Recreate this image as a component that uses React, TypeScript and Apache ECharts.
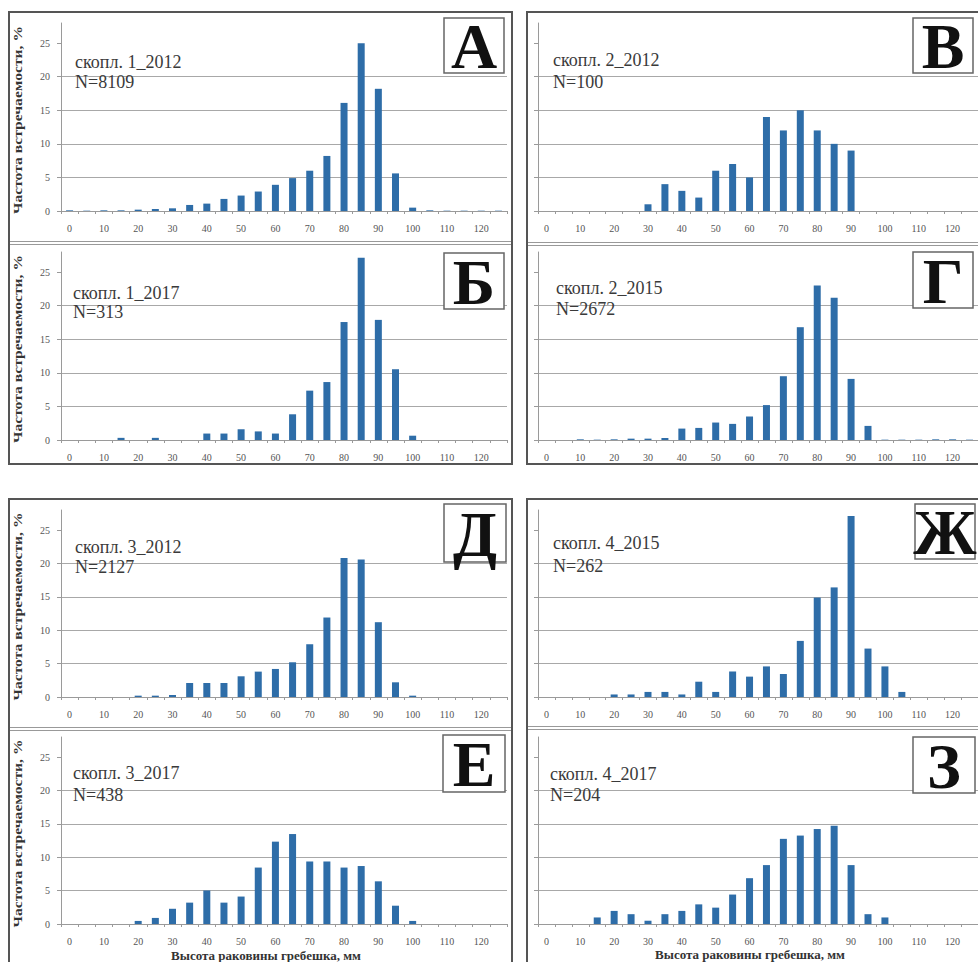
import React, { useEffect, useRef } from 'react';
import * as echarts from 'echarts';

// Size classes (shell height, mm)
const sizeClasses = ['0','5','10','15','20','25','30','35','40','45','50','55','60','65','70','75','80','85','90','95','100','105','110','115','120','125'];
const yTickValues = [0, 5, 10, 15, 20, 25];

// Frequency of occurrence, %
const agg1y2012 = [0.1,0.05,0.1,0.1,0.2,0.3,0.4,0.9,1.1,1.8,2.3,2.9,3.9,4.9,6.0,8.2,16.1,25.0,18.2,5.6,0.5,0.1,0.05,0.05,0.05,0.05];
const agg1y2017 = [0,0,0,0.32,0,0.32,0,0,0.96,0.96,1.6,1.28,0.96,3.83,7.35,8.63,17.57,27.16,17.89,10.54,0.64,0,0,0,0,0];
const agg2y2012 = [0,0,0,0,0,0,1,4,3,2,6,7,5,14,12,15,12,10,9,0,0,0,0,0,0,0];
const agg2y2015 = [0,0,0.1,0.05,0.1,0.2,0.2,0.3,1.7,1.8,2.6,2.4,3.5,5.2,9.5,16.8,23.0,21.2,9.1,2.1,0.05,0.05,0.05,0.1,0.1,0.05];
const agg3y2012 = [0,0,0,0,0.2,0.2,0.3,2.1,2.1,2.1,3.1,3.8,4.2,5.2,7.9,11.9,20.8,20.6,11.2,2.2,0.2,0,0,0,0,0];
const agg3y2017 = [0,0,0,0,0.46,0.91,2.28,3.2,5.02,3.2,4.11,8.45,12.33,13.47,9.36,9.36,8.45,8.68,6.39,2.74,0.46,0,0,0,0,0];
const agg4y2015 = [0,0,0,0,0.38,0.38,0.76,0.76,0.38,2.29,0.76,3.82,3.05,4.58,3.44,8.4,14.89,16.41,27.1,7.25,4.58,0.76,0,0,0,0];
const agg4y2017 = [0,0,0,0.98,1.96,1.47,0.49,1.47,1.96,2.94,2.45,4.41,6.86,8.82,12.75,13.24,14.22,14.71,8.82,1.47,0.98,0,0,0,0,0];

const panelLetters = ['А', 'Б', 'В', 'Г', 'Д', 'Е', 'Ж', 'З'];
const panelNames = ['скопл. 1_2012', 'скопл. 1_2017', 'скопл. 2_2012', 'скопл. 2_2015', 'скопл. 3_2012', 'скопл. 3_2017', 'скопл. 4_2015', 'скопл. 4_2017'];
const panelN = ['N=8109', 'N=313', 'N=100', 'N=2672', 'N=2127', 'N=438', 'N=262', 'N=204'];
const panelData = [agg1y2012, agg1y2017, agg2y2012, agg2y2015, agg3y2012, agg3y2017, agg4y2015, agg4y2017];

const yTitle = 'Частота встречаемости, %';
const xTitle = 'Высота раковины гребешка, мм';

// layout
const COLS = [{ left: 61, width: 446 }, { left: 538, width: 451 }];
const ROWS = [{ top: 23, height: 188 }, { top: 252, height: 188 }, { top: 510, height: 187 }, { top: 737, height: 187 }];
// panel -> [row, col]
const PLACE = [[0, 0], [1, 0], [0, 1], [1, 1], [2, 0], [3, 0], [2, 1], [3, 1]];
const LETTER_BOX = [
  [444, 18, 60, 55], [444, 253, 60, 56], [913, 18, 60, 55], [913, 252, 60, 56],
  [444, 504, 62, 58], [443, 735, 62, 57], [915, 504, 60, 55], [913, 737, 62, 56],
];
const NAME_POS = [
  [75, 62, 82], [73, 293, 312], [553, 60, 82], [556, 288, 309],
  [75, 547, 567], [73, 773, 795], [553, 543, 566], [550, 774, 795],
];

const SERIF = 'Liberation Serif, Times New Roman, serif';
const AXIS_COLOR = '#9a9a9a';
const BAR_COLOR = '#2e6da8';

export default function App() {
  const ref = useRef<HTMLDivElement>(null);

  useEffect(() => {
    if (!ref.current) return;
    const chart = echarts.init(ref.current, undefined, { renderer: 'svg' });

    const grids: any[] = [];
    const xAxes: any[] = [];
    const yAxes: any[] = [];
    const series: any[] = [];
    const graphics: any[] = [];

    panelData.forEach((data, i) => {
      const [r, c] = PLACE[i];
      const isLeft = c === 0;
      grids.push({ left: COLS[c].left, width: COLS[c].width, top: ROWS[r].top, height: ROWS[r].height, containLabel: false });
      xAxes.push({
        gridIndex: i,
        type: 'category',
        data: sizeClasses,
        boundaryGap: true,
        axisLine: { show: true, lineStyle: { color: AXIS_COLOR, width: 1 } },
        axisTick: { show: true, interval: 0, length: 3, lineStyle: { color: AXIS_COLOR } },
        axisLabel: { interval: 1, margin: 12, fontFamily: SERIF, fontSize: 10, color: '#555' },
        splitLine: { show: false },
      });
      yAxes.push({
        gridIndex: i,
        type: 'value',
        min: 0,
        max: 28,
        interval: 5,
        axisLine: { show: true, lineStyle: { color: AXIS_COLOR, width: 1 } },
        axisTick: { show: true, length: 4, customValues: yTickValues, lineStyle: { color: AXIS_COLOR } },
        axisLabel: {
          show: isLeft,
          margin: 11,
          fontFamily: SERIF,
          fontSize: 10,
          color: '#555',
          showMaxLabel: false,
          formatter: (v: number) => (v % 5 === 0 ? String(v) : ''),
        },
        splitLine: { show: true, showMaxLine: false, lineStyle: { color: '#a8a8a8', width: 1 } },
      });
      series.push({
        type: 'bar',
        xAxisIndex: i,
        yAxisIndex: i,
        data,
        barWidth: 7,
        itemStyle: { color: BAR_COLOR },
        silent: true,
      });

      // letter box
      const [bx, by, bw, bh] = LETTER_BOX[i];
      graphics.push({
        type: 'rect', z: 100,
        shape: { x: bx, y: by, width: bw, height: bh },
        style: { fill: '#fff', stroke: '#666', lineWidth: 1.5 },
      });
      graphics.push({
        type: 'text', z: 101,
        x: bx + bw / 2, y: by + bh / 2 + 1,
        style: {
          text: panelLetters[i], fontFamily: SERIF, fontSize: 64, fontWeight: 'bold', fill: '#111',
          align: 'center', verticalAlign: 'middle', textAlign: 'center', textVerticalAlign: 'middle',
        },
      });
      // name + N
      const [nx, ny1, ny2] = NAME_POS[i];
      graphics.push({
        type: 'text', z: 100, x: nx, y: ny1,
        style: { text: panelNames[i], fontFamily: SERIF, fontSize: 18, fill: '#3a3a3a', align: 'left', verticalAlign: 'middle', textAlign: 'left', textVerticalAlign: 'middle' },
      });
      graphics.push({
        type: 'text', z: 100, x: nx, y: ny2,
        style: { text: panelN[i], fontFamily: SERIF, fontSize: 18, fill: '#3a3a3a', align: 'left', verticalAlign: 'middle', textAlign: 'left', textVerticalAlign: 'middle' },
      });
      // y title on left panels
      if (isLeft) {
        const cy = ROWS[r].top + ROWS[r].height / 2 + 3;
        graphics.push({
          type: 'text', z: 100, x: 18, y: cy, rotation: Math.PI / 2, scaleX: 1.3,
          style: {
            text: yTitle, fontFamily: SERIF, fontSize: 12, fontWeight: 'bold', fill: '#333',
            align: 'center', verticalAlign: 'middle', textAlign: 'center', textVerticalAlign: 'middle',
          },
        });
      }
    });

    // x titles
    [[266, 955], [750, 954]].forEach(([x, y]) => {
      graphics.push({
        type: 'text', z: 100, x, y,
        style: {
          text: xTitle, fontFamily: SERIF, fontSize: 13, fontWeight: 'bold', fill: '#333',
          align: 'center', verticalAlign: 'middle', textAlign: 'center', textVerticalAlign: 'middle',
        },
      });
    });

    // outer frames
    [[9, 12, 503, 452], [527, 12, 460, 452], [9, 499, 503, 470], [527, 499, 460, 470]].forEach(([x, y, w, h]) => {
      graphics.push({
        type: 'rect', z: 100,
        shape: { x, y, width: w, height: h },
        style: { fill: 'none', stroke: '#555', lineWidth: 2 },
      });
    });
    // separators between stacked charts
    [[10, 511, 241], [10, 511, 244], [528, 978, 242], [528, 978, 245], [10, 511, 727], [10, 511, 730], [528, 978, 726], [528, 978, 729]].forEach(([x1, x2, y]) => {
      graphics.push({
        type: 'line', z: 100,
        shape: { x1, y1: y + 0.5, x2, y2: y + 0.5 },
        style: { stroke: '#999', lineWidth: 1 },
      });
    });

    chart.setOption({
      animation: false,
      backgroundColor: '#fff',
      grid: grids,
      xAxis: xAxes,
      yAxis: yAxes,
      series,
      graphic: { elements: graphics },
    });

    return () => chart.dispose();
  }, []);

  return (
    <div
      ref={ref}
      style={{ position: 'fixed', left: 0, top: 0, width: 978, height: 962, background: '#fff' }}
    />
  );
}
